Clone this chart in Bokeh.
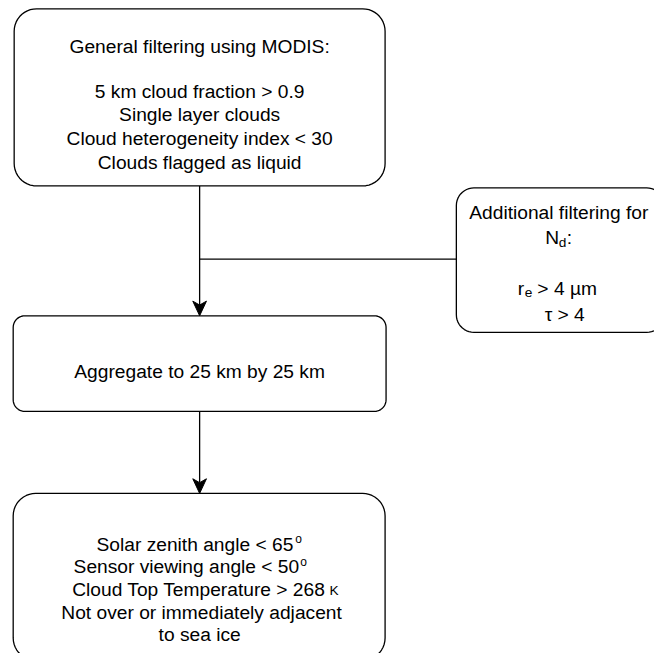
import numpy as np
from bokeh.plotting import figure
from bokeh.models import Range1d
from bokeh.core.properties import value
from bokeh.embed import file_html
from bokeh.resources import INLINE

# ---------------- content (texts of the flow chart) ----------------
general_title = "General filtering using MODIS:"
general_criteria = ["5 km cloud fraction > 0.9", "Single layer clouds",
                    "Cloud heterogeneity index < 30", "Clouds flagged as liquid"]
aggregate_text = "Aggregate to 25 km by 25 km"
nd_title = "Additional filtering for"
nd_parts = ["N", "d", ":"]
re_parts = ["r", "e", "> 4 µm"]
tau_text = "τ > 4"
sza_parts = ["Solar zenith angle < 65", "o"]
vza_parts = ["Sensor viewing angle < 50", "o"]
ctt_parts = ["Cloud Top Temperature > 268", "K"]
ice_lines = ["Not over or immediately adjacent", "to sea ice"]

# ---------------- layout (reference pixels, 670 x 669 canvas) ----------------
W, H = 654, 653
FONT = "Liberation Sans"
FS = "19.2px"
SMALL = "13.7px"
SUP = "12px"
LW = 1.3

p = figure(width=W, height=H, output_backend="svg", toolbar_location=None,
           x_axis_type=None, y_axis_type=None, min_border=0,
           x_range=Range1d(0, 670), y_range=Range1d(669, 0))
p.grid.visible = False
p.outline_line_color = None
p.background_fill_color = "white"
p.border_fill_color = "white"


def rrect(l, t, r, b, rad, n=12):
    xs, ys = [], []
    corners = [((l + rad, t + rad), np.pi, 1.5 * np.pi),
               ((r - rad, t + rad), 1.5 * np.pi, 2 * np.pi),
               ((r - rad, b - rad), 0.0, 0.5 * np.pi),
               ((l + rad, b - rad), 0.5 * np.pi, np.pi)]
    for (cx, cy), a0, a1 in corners:
        a = np.linspace(a0, a1, n)
        xs.extend(cx + rad * np.cos(a))
        ys.extend(cy + rad * np.sin(a))
    return xs, ys


boxes = [(14, 8.5, 394, 190, 23),   # general filtering
         (467, 192, 680, 340, 18),  # Nd filtering
         (13, 323, 395, 421, 12),   # aggregate
         (13, 505, 394, 676, 23)]   # final filters
for l, t, r, b, rad in boxes:
    xs, ys = rrect(l, t, r, b, rad)
    p.patch(xs, ys, fill_color="white", line_color="black", line_width=LW)

# connectors
p.line([204, 204], [190, 312], line_color="black", line_width=LW)
p.line([204, 467], [265, 265], line_color="black", line_width=LW)
p.line([204, 204], [421, 494], line_color="black", line_width=LW)


def arrow_head(xtip, ytip):
    return [xtip, xtip - 7, xtip, xtip + 7], [ytip, ytip - 15, ytip - 11, ytip - 15]


for tip in [(204, 323), (204, 505)]:
    hx, hy = arrow_head(*tip)
    p.patch(hx, hy, fill_color="black", line_color="black", line_width=1)


def txt(x, y, t, size=FS, align="center"):
    p.text(x=x, y=y, text=t, text_font=value(FONT), text_font_size=size,
           text_align=align, text_baseline="alphabetic", text_color="black")


# box 1
txt([204] * 5, [47, 93, 117, 141, 166], [general_title] + general_criteria)
# box 3
txt([204], [380], [aggregate_text])
# box 2
txt([572], [217], [nd_title])
txt([558], [243], [nd_parts[0]], align="left")
txt([572], [248], [nd_parts[1]], size=SMALL, align="left")
txt([580], [243], [nd_parts[2]], align="left")
txt([530], [295], [re_parts[0]], align="left")
txt([537], [299], [re_parts[1]], size=SMALL, align="left")
txt([550], [295], [re_parts[2]], align="left")
txt([578], [322], [tau_text])
# box 4
txt([300, 306], [557, 580], [sza_parts[0], vza_parts[0]], align="right")
txt([302, 307], [552, 575], [sza_parts[1], vza_parts[1]], size=SUP, align="left")
txt([333], [603], [ctt_parts[0]], align="right")
txt([337], [604], [ctt_parts[1]], size=SMALL, align="left")
txt([206, 204], [627, 650], ice_lines)

open("out.html", "w").write(file_html(p, INLINE))
